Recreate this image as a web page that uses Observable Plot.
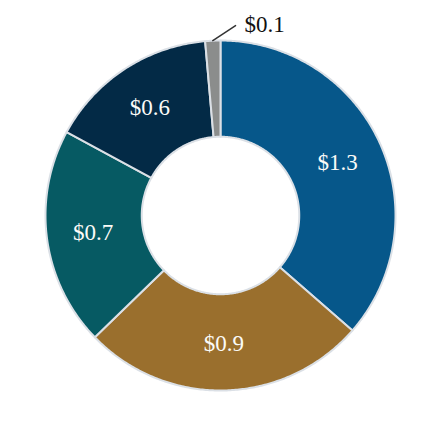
<!DOCTYPE html>
<html><head><meta charset="utf-8">
<script src="https://cdn.jsdelivr.net/npm/d3@7"></script>
<script src="https://cdn.jsdelivr.net/npm/@observablehq/plot@0.6"></script>
<style>body{margin:0;background:#fff}</style>
</head><body><div id="chart"></div>
<script>
const categories = ["Segment 1", "Segment 2", "Segment 3", "Segment 4", "Segment 5"];
const values = [1.3, 0.94, 0.72, 0.56, 0.05];
const labels = ["$1.3", "$0.9", "$0.7", "$0.6", "$0.1"];
const colors = ["#06578a", "#9a6f2d", "#065a63", "#032a46", "#8b8d8c"];

const data = categories.map((c, i) => ({category: c, value: values[i], label: labels[i]}));
const arcs = d3.pie().sort(null).value(d => d.value)(data);
const inner = 0.45, outer = 1;
const total = d3.sum(values);

const poly = [];
arcs.forEach(a => {
  const n = Math.max(2, Math.ceil((a.endAngle - a.startAngle) / 0.01));
  for (let k = 0; k <= n; k++) {
    const t = a.startAngle + (a.endAngle - a.startAngle) * k / n;
    poly.push({category: a.data.category, x: outer * Math.sin(t), y: outer * Math.cos(t)});
  }
  for (let k = n; k >= 0; k--) {
    const t = a.startAngle + (a.endAngle - a.startAngle) * k / n;
    poly.push({category: a.data.category, x: inner * Math.sin(t), y: inner * Math.cos(t)});
  }
});

const insideLabels = [], outsideLabels = [], leaders = [];
arcs.forEach(a => {
  const m = (a.startAngle + a.endAngle) / 2;
  if (a.data.value / total > 0.03) {
    const r = 0.735;
    insideLabels.push({x: r * Math.sin(m), y: r * Math.cos(m), label: a.data.label});
  } else {
    const x0 = outer * Math.sin(m), y0 = outer * Math.cos(m);
    const x1 = x0 + 0.13, y1 = y0 + 0.086;
    leaders.push({x: x0, y: y0, k: a.data.label}, {x: x1, y: y1, k: a.data.label});
    outsideLabels.push({x: x1, y: y1, label: a.data.label});
  }
});

const chart = Plot.plot({
  width: 440,
  height: 430,
  margin: 0,
  x: {domain: [-220 / 175, 220 / 175], axis: null},
  y: {domain: [-215 / 175, 215 / 175], axis: null},
  color: {domain: categories, range: colors},
  style: {background: "#fff", fontFamily: "'Liberation Serif', 'Times New Roman', serif"},
  marks: [
    Plot.line(poly, {x: "x", y: "y", z: "category", fill: "category", stroke: "#dbe0e6", strokeWidth: 2, curve: "linear-closed"}),
    Plot.text(insideLabels, {x: "x", y: "y", text: "label", fill: "#fbfbf8", fontSize: 23, fontFamily: "'Liberation Serif', serif"}),
    Plot.line(leaders, {x: "x", y: "y", z: "k", stroke: "#333", strokeWidth: 1.5}),
    Plot.text(outsideLabels, {x: "x", y: "y", text: "label", fill: "#111", fontSize: 23, textAnchor: "start", dx: 9, dy: -1, fontFamily: "'Liberation Serif', serif"})
  ]
});
document.getElementById("chart").append(chart);
</script>
</body></html>
